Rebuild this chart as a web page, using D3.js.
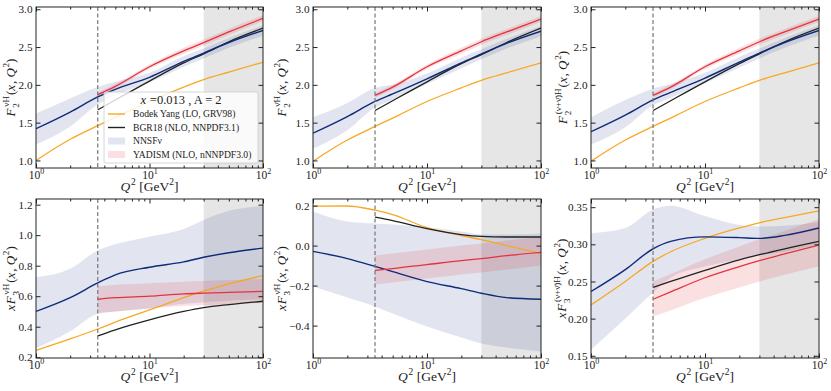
<!DOCTYPE html>
<html>
<head>
<meta charset="utf-8">
<script src="https://cdnjs.cloudflare.com/ajax/libs/d3/7.8.5/d3.min.js"></script>
<style>
  body { margin: 0; background: #fff; }
  text { font-family: "Liberation Serif", "DejaVu Serif", serif; fill: #222; }
  .tick line { stroke: #222; }
</style>
</head>
<body>
<div id="plot"></div>
<script>
// Q^2 grids (GeV^2)
var q2Full = [1, 2, 3.5, 5, 10, 20, 30, 50, 100];
var q2Cut = [3.5, 5, 10, 20, 30, 50, 100];

// F2 nu H
var f2nuBY = [1.00, 1.28, 1.46, 1.57, 1.78, 1.97, 2.07, 2.17, 2.30];
var f2nuNN = [1.42, 1.64, 1.84, 1.94, 2.10, 2.31, 2.42, 2.56, 2.72];
var f2nuNNlo = [1.21, 1.45, 1.74, 1.86, 2.03, 2.24, 2.35, 2.49, 2.65];
var f2nuNNhi = [1.62, 1.82, 1.97, 2.04, 2.16, 2.38, 2.48, 2.62, 2.79];
var f2nuBGR = [1.67, 1.80, 2.05, 2.29, 2.41, 2.57, 2.75];
var f2nuYAD = [1.87, 1.98, 2.24, 2.45, 2.56, 2.70, 2.88];
var f2nuYADlo = [1.84, 1.95, 2.21, 2.41, 2.52, 2.66, 2.84];
var f2nuYADhi = [1.90, 2.01, 2.27, 2.49, 2.60, 2.74, 2.92];

// F2 nubar H
var f2nbBY = [0.99, 1.27, 1.45, 1.56, 1.78, 1.96, 2.06, 2.16, 2.29];
var f2nbNN = [1.36, 1.58, 1.78, 1.88, 2.08, 2.29, 2.41, 2.55, 2.71];
var f2nbNNlo = [1.155, 1.40, 1.70, 1.80, 2.01, 2.22, 2.34, 2.48, 2.64];
var f2nbNNhi = [1.57, 1.76, 1.96, 2.00, 2.15, 2.36, 2.47, 2.61, 2.78];
var f2nbBGR = [1.66, 1.79, 2.04, 2.28, 2.40, 2.56, 2.75];
var f2nbYAD = [1.86, 1.97, 2.24, 2.45, 2.57, 2.70, 2.87];
var f2nbYADlo = [1.83, 1.94, 2.21, 2.41, 2.53, 2.66, 2.83];
var f2nbYADhi = [1.89, 2.00, 2.27, 2.49, 2.61, 2.74, 2.91];

// F2 (nu+nubar) H
var f2smBY = [0.99, 1.27, 1.45, 1.56, 1.78, 1.96, 2.06, 2.16, 2.29];
var f2smNN = [1.38, 1.60, 1.80, 1.90, 2.09, 2.30, 2.42, 2.56, 2.72];
var f2smNNlo = [1.21, 1.44, 1.73, 1.83, 2.02, 2.23, 2.35, 2.49, 2.65];
var f2smNNhi = [1.57, 1.80, 1.95, 2.01, 2.16, 2.37, 2.48, 2.62, 2.79];
var f2smBGR = [1.66, 1.79, 2.04, 2.28, 2.41, 2.57, 2.75];
var f2smYAD = [1.86, 1.97, 2.24, 2.45, 2.57, 2.70, 2.87];
var f2smYADlo = [1.83, 1.94, 2.21, 2.41, 2.53, 2.66, 2.83];
var f2smYADhi = [1.89, 2.00, 2.27, 2.49, 2.61, 2.74, 2.91];

// xF3 nu H
var f3nuBY = [0.245, 0.32, 0.385, 0.43, 0.51, 0.59, 0.635, 0.68, 0.735];
var f3nuNN = [0.50, 0.59, 0.687, 0.74, 0.79, 0.825, 0.855, 0.885, 0.915];
var f3nuNNlo = [0.26, 0.37, 0.485, 0.50, 0.52, 0.55, 0.56, 0.57, 0.58];
var f3nuNNhi = [0.725, 0.78, 0.90, 0.94, 0.99, 1.04, 1.10, 1.16, 1.19];
var f3nuBGR = [0.34, 0.38, 0.445, 0.50, 0.525, 0.545, 0.567];
var f3nuYAD = [0.58, 0.59, 0.60, 0.615, 0.62, 0.625, 0.632];
var f3nuYADlo = [0.49, 0.50, 0.52, 0.535, 0.54, 0.548, 0.555];
var f3nuYADhi = [0.665, 0.675, 0.685, 0.695, 0.70, 0.705, 0.712];

// xF3 nubar H
var f3nbBY = [0.197, 0.198, 0.177, 0.155, 0.09, 0.05, 0.03, 0.0, -0.04];
var f3nbNN = [-0.029, -0.065, -0.104, -0.13, -0.18, -0.215, -0.238, -0.26, -0.268];
var f3nbNNlo = [-0.205, -0.26, -0.305, -0.34, -0.405, -0.46, -0.49, -0.51, -0.53];
var f3nbNNhi = [0.17, 0.12, 0.11, 0.105, 0.09, 0.07, 0.055, 0.055, 0.06];
var f3nbBGR = [0.143, 0.125, 0.085, 0.055, 0.046, 0.043, 0.043];
var f3nbYAD = [-0.124, -0.115, -0.095, -0.075, -0.065, -0.05, -0.034];
var f3nbYADlo = [-0.195, -0.185, -0.165, -0.145, -0.135, -0.12, -0.10];
var f3nbYADhi = [-0.05, -0.04, -0.02, 0.0, 0.01, 0.025, 0.045];

// xF3 (nu+nubar) H
var f3smBY = [0.2185, 0.25, 0.277, 0.29, 0.308, 0.322, 0.329, 0.336, 0.345];
var f3smNN = [0.2365, 0.266, 0.294, 0.304, 0.310, 0.309, 0.308, 0.312, 0.322];
var f3smNNlo = [0.158, 0.20, 0.235, 0.255, 0.27, 0.28, 0.285, 0.29, 0.30];
var f3smNNhi = [0.315, 0.322, 0.347, 0.352, 0.338, 0.326, 0.324, 0.325, 0.33];
var f3smBGR = [0.242, 0.25, 0.265, 0.279, 0.286, 0.294, 0.304];
var f3smYAD = [0.226, 0.236, 0.255, 0.27, 0.278, 0.287, 0.299];
var f3smYADlo = [0.203, 0.211, 0.228, 0.242, 0.25, 0.259, 0.27];
var f3smYADhi = [0.25, 0.26, 0.28, 0.297, 0.307, 0.318, 0.334];

// tick labels
var yTicksF2 = [1.0, 1.5, 2.0, 2.5, 3.0];
var yTicksF3nu = [0.2, 0.4, 0.6, 0.8, 1.0, 1.2];
var yTicksF3nb = [-0.4, -0.2, 0.0, 0.2];
var yTicksF3sm = [0.15, 0.20, 0.25, 0.30, 0.35];
var xMajor = [1, 10, 100];
var xMinor = [2, 3, 4, 5, 6, 7, 8, 9, 20, 30, 40, 50, 60, 70, 80, 90];

var q2Cutoff = 3.5, q2Shade = [30, 100];
var legendLabels = ["Bodek Yang (LO, GRV98)", "BGR18 (NLO, NNPDF3.1)", "NNSF\u03bd", "YADISM (NLO, nNNPDF3.0)"];

var colOrange = "#f7a823", colBlack = "#222222", colBlue = "#0d2b78", colRed = "#e5323f";

// label pieces: [text, italic, shift] shift: 0 normal, 1 sup, 2 stacked sub/sup
var nu = "\u03bd", nub = "\u03bd\u0304";
function lab(pre, sub, sup) {
  var p = [];
  if (pre) p.push([pre, true, 0]);
  p.push(["F", true, 0], [sub, sup, 2], ["(", false, 0], ["x", true, 0], [", ", false, 0], ["Q", true, 0], ["2", false, 1], [")", false, 0]);
  return p;
}

var panels = [
  {by: f2nuBY, nn: f2nuNN, lo: f2nuNNlo, hi: f2nuNNhi, bgr: f2nuBGR, yad: f2nuYAD, ylo: f2nuYADlo, yhi: f2nuYADhi,
   dom: [0.9, 3.03], ticks: yTicksF2, fmt: ".1f", label: lab("", "2", nu + "H"), loff: 21, legend: true},
  {by: f2nbBY, nn: f2nbNN, lo: f2nbNNlo, hi: f2nbNNhi, bgr: f2nbBGR, yad: f2nbYAD, ylo: f2nbYADlo, yhi: f2nbYADhi,
   dom: [0.9, 3.03], ticks: yTicksF2, fmt: ".1f", label: lab("", "2", nub + "H"), loff: 27},
  {by: f2smBY, nn: f2smNN, lo: f2smNNlo, hi: f2smNNhi, bgr: f2smBGR, yad: f2smYAD, ylo: f2smYADlo, yhi: f2smYADhi,
   dom: [0.9, 3.03], ticks: yTicksF2, fmt: ".1f", label: lab("", "2", "(" + nu + "+" + nub + ")H"), loff: 24},
  {by: f3nuBY, nn: f3nuNN, lo: f3nuNNlo, hi: f3nuNNhi, bgr: f3nuBGR, yad: f3nuYAD, ylo: f3nuYADlo, yhi: f3nuYADhi,
   dom: [0.195, 1.237], ticks: yTicksF3nu, fmt: ".1f", label: lab("x", "3", nu + "H"), loff: 21},
  {by: f3nbBY, nn: f3nbNN, lo: f3nbNNlo, hi: f3nbNNhi, bgr: f3nbBGR, yad: f3nbYAD, ylo: f3nbYADlo, yhi: f3nbYADhi,
   dom: [-0.562, 0.233], ticks: yTicksF3nb, fmt: ".1f", label: lab("x", "3", nub + "H"), loff: 27},
  {by: f3smBY, nn: f3smNN, lo: f3smNNlo, hi: f3smNNhi, bgr: f3smBGR, yad: f3smYAD, ylo: f3smYADlo, yhi: f3smYADhi,
   dom: [0.147, 0.361], ticks: yTicksF3sm, fmt: ".2f", label: lab("x", "3", "(" + nu + "+" + nub + ")H"), loff: 25}
];

var cols = [[36, 263], [313, 541], [591, 819]];
var rows = [[7, 168], [199, 358]];

var svg = d3.select("#plot").append("svg").attr("width", 831).attr("height", 391);

function mathText(g, pieces, size) {
  var t = g.append("text").attr("font-size", size);
  var cx = 0;
  pieces.forEach(function(p) {
    if (p[2] === 2) {
      var s1 = t.append("tspan").attr("x", cx).attr("y", size * 0.3).attr("font-size", size * 0.7).text(p[0]);
      var s2 = t.append("tspan").attr("x", cx + 1).attr("y", -size * 0.45).attr("font-size", size * 0.7).text(p[1]);
      cx += Math.max(s1.node().getComputedTextLength(), s2.node().getComputedTextLength() + 1) + 1;
    } else {
      var s = t.append("tspan").attr("x", cx).attr("y", p[2] === 1 ? -size * 0.45 : 0)
        .attr("font-size", p[2] === 1 ? size * 0.7 : size)
        .attr("font-style", p[1] ? "italic" : "normal").attr("xml:space", "preserve").text(p[0]);
      cx += s.node().getComputedTextLength() + (p[1] ? 0.8 : 0);
    }
  });
  t.attr("transform", "translate(" + (-cx / 2) + ",0)");
  return cx;
}

panels.forEach(function(p, i) {
  var c = cols[i % 3], r = rows[Math.floor(i / 3)];
  var x = d3.scaleLog().domain([1, 100]).range(c);
  var y = d3.scaleLinear().domain(p.dom).range([r[1], r[0]]);
  var g = svg.append("g");
  var cid = "clip" + i;
  g.append("clipPath").attr("id", cid).append("rect")
    .attr("x", c[0]).attr("y", r[0]).attr("width", c[1] - c[0]).attr("height", r[1] - r[0]);
  var pg = g.append("g").attr("clip-path", "url(#" + cid + ")");

  // shaded region
  pg.append("rect").attr("x", x(q2Shade[0])).attr("y", r[0])
    .attr("width", x(q2Shade[1]) - x(q2Shade[0])).attr("height", r[1] - r[0])
    .attr("fill", "#808080").attr("opacity", 0.2);

  var area = function(xs, lo, hi) {
    return d3.area().x(function(d, k) { return x(xs[k]); })
      .y0(function(d, k) { return y(lo[k]); }).y1(function(d, k) { return y(hi[k]); })
      .curve(d3.curveMonotoneX)(xs);
  };
  var line = function(xs, ys) {
    return d3.line().x(function(d, k) { return x(xs[k]); }).y(function(d, k) { return y(ys[k]); })
      .curve(d3.curveMonotoneX)(xs);
  };

  pg.append("path").attr("d", area(q2Full, p.lo, p.hi)).attr("fill", "rgb(60,80,150)").attr("opacity", 0.15);
  pg.append("path").attr("d", area(q2Cut, p.ylo, p.yhi)).attr("fill", colRed).attr("opacity", 0.15);

  pg.append("path").attr("d", line(q2Full, p.by)).attr("fill", "none").attr("stroke", colOrange).attr("stroke-width", 1.3);
  pg.append("path").attr("d", line(q2Cut, p.bgr)).attr("fill", "none").attr("stroke", colBlack).attr("stroke-width", 1.3);
  pg.append("path").attr("d", line(q2Full, p.nn)).attr("fill", "none").attr("stroke", colBlue).attr("stroke-width", 1.4);
  pg.append("path").attr("d", line(q2Cut, p.yad)).attr("fill", "none").attr("stroke", colRed).attr("stroke-width", 1.3);

  // cut line
  pg.append("line").attr("x1", x(q2Cutoff)).attr("x2", x(q2Cutoff)).attr("y1", r[0]).attr("y2", r[1])
    .attr("stroke", "#777").attr("stroke-width", 1.2).attr("stroke-dasharray", "4,2.5");

  // axes (ticks inward on all sides)
  var gx = g.append("g").attr("transform", "translate(0," + r[1] + ")")
    .call(d3.axisBottom(x).tickValues(xMajor).tickSize(-4.5).tickSizeOuter(0).tickPadding(3).tickFormat(""));
  gx.selectAll(".tick text").each(function(d) {
    var t = d3.select(this).attr("font-size", 11.5).attr("y", 10.5).attr("dy", null).text("10");
    t.append("tspan").attr("dy", -4.5).attr("font-size", 8).text(Math.round(Math.log10(d)));
  });
  g.append("g").attr("transform", "translate(0," + r[1] + ")")
    .call(d3.axisBottom(x).tickValues(xMinor).tickSize(-2.5).tickSizeOuter(0).tickFormat(""));
  g.append("g").attr("transform", "translate(0," + r[0] + ")")
    .call(d3.axisTop(x).tickValues(xMajor).tickSize(-4.5).tickSizeOuter(0).tickFormat(""));
  g.append("g").attr("transform", "translate(0," + r[0] + ")")
    .call(d3.axisTop(x).tickValues(xMinor).tickSize(-2.5).tickSizeOuter(0).tickFormat(""));
  var fmt = d3.format(p.fmt);
  g.append("g").attr("transform", "translate(" + c[0] + ",0)")
    .call(d3.axisLeft(y).tickValues(p.ticks).tickSize(-4.5).tickSizeOuter(0).tickPadding(3.5)
      .tickFormat(function(d) { return fmt(d).replace("-", "\u2212"); }))
    .selectAll("text").attr("font-size", 11.2).attr("font-family", "Liberation Serif");
  g.append("g").attr("transform", "translate(" + c[1] + ",0)")
    .call(d3.axisRight(y).tickValues(p.ticks).tickSize(-4.5).tickSizeOuter(0).tickFormat(""));
  g.selectAll(".domain").remove();

  g.append("rect").attr("x", c[0]).attr("y", r[0]).attr("width", c[1] - c[0]).attr("height", r[1] - r[0])
    .attr("fill", "none").attr("stroke", "#222").attr("stroke-width", 1);

  // x label
  var xl = g.append("g").attr("transform", "translate(" + ((c[0] + c[1]) / 2) + "," + (r[1] + 23) + ")");
  mathText(xl, [["Q", true, 0], ["2", false, 1], [" [GeV", false, 0], ["2", false, 1], ["]", false, 0]], 13.5);

  // y label
  var yl = g.append("g").attr("transform", "translate(" + (c[0] - p.loff) + "," + ((r[0] + r[1]) / 2) + ") rotate(-90)");
  mathText(yl, p.label, 13);

  if (p.legend) {
    var lg = g.append("g");
    lg.append("rect").attr("x", 104).attr("y", 92).attr("width", 154).attr("height", 71).attr("rx", 2)
      .attr("fill", "#fff").attr("fill-opacity", 0.8).attr("stroke", "#cccccc").attr("stroke-width", 0.8);
    var tg = lg.append("g").attr("transform", "translate(181,104)");
    mathText(tg, [["x", true, 0], [" =0.013 , A = 2", false, 0]], 12.5);
    var ly = [114, 127.5, 141, 154.5];
    lg.append("line").attr("x1", 108).attr("x2", 125).attr("y1", ly[0]).attr("y2", ly[0]).attr("stroke", colOrange).attr("stroke-width", 1.4);
    lg.append("line").attr("x1", 108).attr("x2", 125).attr("y1", ly[1]).attr("y2", ly[1]).attr("stroke", colBlack).attr("stroke-width", 1.4);
    lg.append("rect").attr("x", 108).attr("y", ly[2] - 3.5).attr("width", 17).attr("height", 7).attr("fill", "rgb(60,80,150)").attr("opacity", 0.15);
    lg.append("rect").attr("x", 108).attr("y", ly[3] - 3.5).attr("width", 17).attr("height", 7).attr("fill", colRed).attr("opacity", 0.15);
    legendLabels.forEach(function(s, k) {
      lg.append("text").attr("x", 133).attr("y", ly[k] + 3.4).attr("font-size", 9.6).text(s);
    });
  }
});
</script>
</body>
</html>
